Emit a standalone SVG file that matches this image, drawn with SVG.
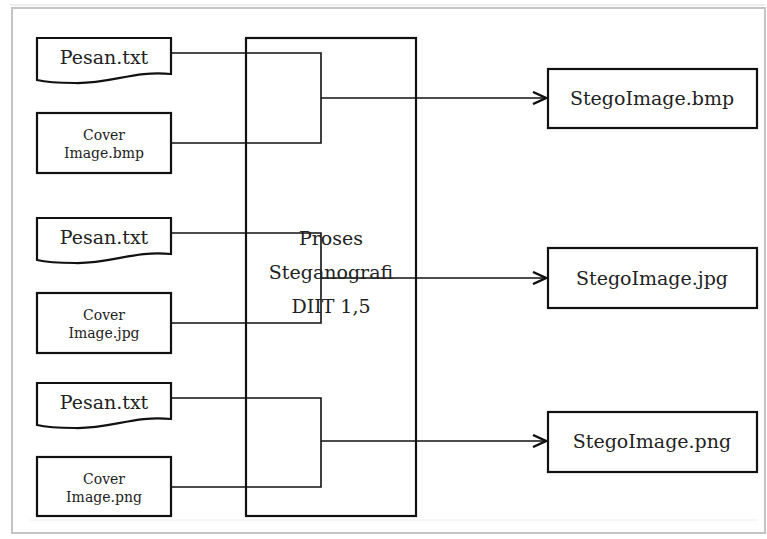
<svg xmlns="http://www.w3.org/2000/svg" width="767" height="539" viewBox="0 0 767 539">
<style>
.box{fill:#fff;stroke:#111;stroke-width:2.2}
.ln{fill:none;stroke:#111;stroke-width:1.6}
.t{font-family:"DejaVu Serif","Liberation Serif",serif;fill:#222;text-anchor:middle}
.big{font-size:19px}
.sm{font-size:14px}
</style>
<defs>
<marker id="arr" markerWidth="16" markerHeight="14" refX="14" refY="7" orient="auto" markerUnits="userSpaceOnUse">
<path d="M1,1 L14,7 L1,13" fill="none" stroke="#111" stroke-width="2.4"/>
</marker>
</defs>
<rect x="0" y="0" width="767" height="539" fill="#fff"/>
<line x1="10" y1="5" x2="766" y2="5" stroke="#eee" stroke-width="2"/>
<rect x="12" y="8" width="753" height="525" fill="#fff" stroke="#c4c4c4" stroke-width="2"/>
<line x1="30" y1="520" x2="758" y2="520" stroke="#eee" stroke-width="1"/>

<g id="proses">
<rect class="box" x="246" y="38" width="170" height="478" style="fill:none"/>
</g>

<g id="connectors">
<polyline class="ln" points="171,53 321,53 321,143 171,143"/>
<line class="ln" x1="321" y1="98" x2="546" y2="98" marker-end="url(#arr)"/>
<polyline class="ln" points="171,233 321,233 321,323 171,323"/>
<line class="ln" x1="321" y1="278" x2="546" y2="278" marker-end="url(#arr)"/>
<polyline class="ln" points="171,398 321,398 321,487 171,487"/>
<line class="ln" x1="321" y1="441" x2="546" y2="441" marker-end="url(#arr)"/>
</g>

<g id="proses-label">
<text class="t big" x="331" y="245">Proses</text>
<text class="t big" x="331" y="279">Steganografi</text>
<text class="t big" x="331" y="313">DIIT 1,5</text>
</g>

<g id="pesan1">
<path class="box" d="M37,38 H171 V74 C135,70 110,84 75,83 C55,83 45,82 37,80 Z"/>
<text class="t big" x="104" y="64">Pesan.txt</text>
</g>
<g id="cover-bmp">
<rect class="box" x="37" y="113" width="134" height="60"/>
<text class="t sm" x="104" y="140">Cover</text>
<text class="t sm" x="104" y="158">Image.bmp</text>
</g>

<g id="pesan2">
<path class="box" d="M37,218 H171 V254 C135,250 110,264 75,263 C55,263 45,262 37,260 Z"/>
<text class="t big" x="104" y="244">Pesan.txt</text>
</g>
<g id="cover-jpg">
<rect class="box" x="37" y="293" width="134" height="60"/>
<text class="t sm" x="104" y="320">Cover</text>
<text class="t sm" x="104" y="338">Image.jpg</text>
</g>

<g id="pesan3">
<path class="box" d="M37,383 H171 V419 C135,415 110,429 75,428 C55,428 45,427 37,425 Z"/>
<text class="t big" x="104" y="409">Pesan.txt</text>
</g>
<g id="cover-png">
<rect class="box" x="37" y="457" width="134" height="59"/>
<text class="t sm" x="104" y="484">Cover</text>
<text class="t sm" x="104" y="502">Image.png</text>
</g>

<g id="stego-bmp">
<rect class="box" x="548" y="69" width="209" height="59"/>
<text class="t big" x="652" y="105">StegoImage.bmp</text>
</g>
<g id="stego-jpg">
<rect class="box" x="548" y="248" width="209" height="60"/>
<text class="t big" x="652" y="285">StegoImage.jpg</text>
</g>
<g id="stego-png">
<rect class="box" x="548" y="412" width="209" height="60"/>
<text class="t big" x="652" y="448">StegoImage.png</text>
</g>
</svg>
